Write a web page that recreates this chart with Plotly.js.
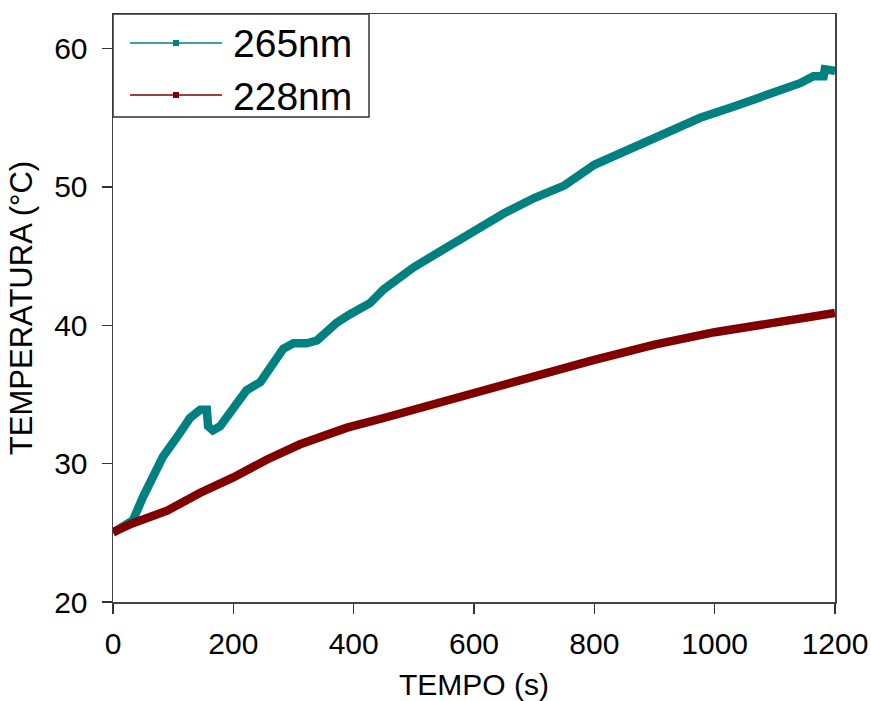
<!DOCTYPE html>
<html>
<head>
<meta charset="utf-8">
<script src="https://cdn.plot.ly/plotly-3.0.1.min.js"></script>
<style>html,body{margin:0;padding:0;background:#fff;}#chart{width:871px;height:701px;}</style>
</head>
<body>
<div id="chart"></div>
<script>
// Series 265nm (teal)
const t265 = [0, 33, 50, 66, 83, 106, 128, 145, 156, 158, 166, 178, 200, 222, 245, 256, 270, 283, 300, 322, 339, 350, 372, 394, 427, 450, 500, 550, 600, 650, 700, 750, 800, 850, 900, 950, 976, 1031, 1087, 1131, 1142, 1164, 1181, 1183, 1200];
const y265 = [25.0, 25.9, 27.6, 29.0, 30.5, 31.9, 33.3, 33.9, 33.9, 32.7, 32.4, 32.7, 34.1, 35.3, 35.9, 36.6, 37.6, 38.3, 38.7, 38.7, 38.9, 39.4, 40.2, 40.8, 41.6, 42.6, 44.2, 45.5, 46.8, 48.1, 49.2, 50.1, 51.6, 52.6, 53.6, 54.5, 55.0, 55.8, 56.6, 57.2, 57.5, 58.0, 58.0, 58.5, 58.4];
// Series 228nm (dark red)
const t228 = [0, 33, 90, 145, 200, 256, 311, 366, 389, 450, 500, 600, 700, 800, 900, 976, 1000, 1087, 1100, 1200];
const y228 = [25.05, 25.7, 26.6, 27.9, 29.0, 30.3, 31.4, 32.2, 32.6, 33.3, 33.9, 35.1, 36.4, 37.5, 38.6, 39.4, 39.5, 40.1, 40.2, 40.9];
const names = ['265nm', '228nm'];
const colors = ['#008080', '#800000'];
const xTicks = [0, 200, 400, 600, 800, 1000, 1200];
const yTicks = [20, 30, 40, 50, 60];

const FONT = '"Liberation Sans", Arial, sans-serif';

// plot area in pixels (for placing the hand-made legend)
const W = 871, H = 701;
const M = {l: 113, r: 36, t: 14, b: 99};
const PW = W - M.l - M.r, PH = H - M.t - M.b;
const px = v => (v - M.l) / PW;
const py = v => (H - M.b - v) / PH;

const traces = [
  {x: t265, y: y265, name: names[0], mode: 'lines', line: {color: colors[0], width: 8.5}, showlegend: false},
  {x: t228, y: y228, name: names[1], mode: 'lines', line: {color: colors[1], width: 8.5}, showlegend: false}
];

// legend box, sample lines, markers, labels
const shapes = [
  {type: 'rect', xref: 'paper', yref: 'paper', x0: px(113), x1: px(369), y0: py(14), y1: py(117),
   line: {color: '#333', width: 1.5}, fillcolor: '#fff', layer: 'above'}
];
const annotations = [];
const rowsY = [43, 95];
names.forEach((n, i) => {
  shapes.push({type: 'line', xref: 'paper', yref: 'paper', x0: px(130), x1: px(222), y0: py(rowsY[i]), y1: py(rowsY[i]),
    line: {color: colors[i], width: 1.5}, layer: 'above'});
  shapes.push({type: 'rect', xref: 'paper', yref: 'paper', x0: px(173), x1: px(179), y0: py(rowsY[i] - 3), y1: py(rowsY[i] + 3),
    line: {color: colors[i], width: 0}, fillcolor: colors[i], layer: 'above'});
  annotations.push({xref: 'paper', yref: 'paper', x: px(231), y: py(rowsY[i] + 1), xanchor: 'left', yanchor: 'middle',
    text: n, showarrow: false, font: {family: FONT, size: 39, color: '#000'}});
});

const axisCommon = {
  showgrid: false, zeroline: false, showline: true, mirror: true,
  linecolor: '#444', linewidth: 1.5,
  ticks: 'outside', ticklen: 10, tickwidth: 1.5, tickcolor: '#333',
  tickfont: {family: FONT, size: 30, color: '#000'}
};

const layout = {
  width: W, height: H,
  margin: M,
  paper_bgcolor: '#fff', plot_bgcolor: '#fff',
  showlegend: false,
  xaxis: Object.assign({}, axisCommon, {
    range: [0, 1200], tickvals: xTicks, ticktext: xTicks.map(String),
    ticklabelstandoff: 4,
    title: {text: 'TEMPO (s)', font: {family: FONT, size: 30, color: '#000'}, standoff: 20}
  }),
  yaxis: Object.assign({}, axisCommon, {
    range: [20, 62.5], tickvals: yTicks, ticktext: yTicks.map(String),
    ticklabelstandoff: 8,
    title: {text: 'TEMPERATURA (°C)', font: {family: FONT, size: 31, color: '#000'}, standoff: 12}
  }),
  shapes: shapes,
  annotations: annotations
};

Plotly.newPlot('chart', traces, layout, {displayModeBar: false, staticPlot: true});
</script>
</body>
</html>
